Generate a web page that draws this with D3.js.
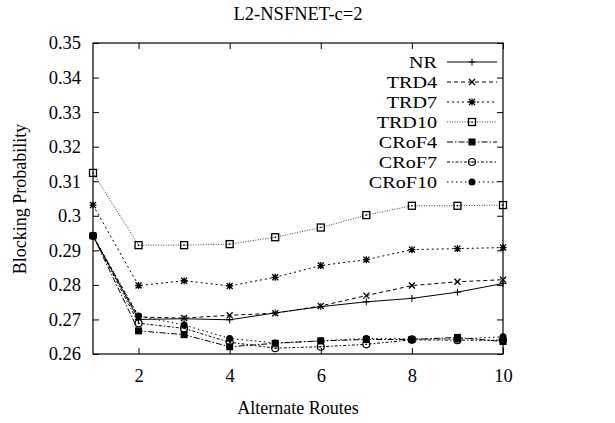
<!DOCTYPE html>
<html>
<head>
<meta charset="utf-8">
<script src="https://cdn.jsdelivr.net/npm/d3@7/dist/d3.min.js"></script>
<style>
  html, body { margin: 0; padding: 0; background: #fff; }
  svg { display: block; }
  text { font-family: "Liberation Serif", "Times New Roman", serif; fill: #000; }
</style>
</head>
<body>
<svg id="chart" width="615" height="423"></svg>
<script>
// Alternate routes on the x axis
const routes = [1, 2, 3, 4, 5, 6, 7, 8, 9, 10];

// Blocking probability per scheme
const nr     = [0.2942, 0.2700, 0.2702, 0.2699, 0.2719, 0.2737, 0.2751, 0.2761, 0.2779, 0.2804];
const trd4   = [0.2942, 0.2707, 0.2704, 0.2712, 0.2718, 0.2739, 0.2769, 0.2798, 0.2809, 0.2815];
const trd7   = [0.3031, 0.2798, 0.2812, 0.2797, 0.2822, 0.2856, 0.2873, 0.2902, 0.2905, 0.2908];
const trd10  = [0.3124, 0.2915, 0.2915, 0.2918, 0.2938, 0.2966, 0.3002, 0.3029, 0.3029, 0.3031];
const crof4  = [0.2942, 0.2667, 0.2656, 0.2621, 0.2631, 0.2638, 0.2642, 0.2642, 0.2648, 0.2636];
const crof7  = [0.2942, 0.2689, 0.2674, 0.2634, 0.2617, 0.2621, 0.2628, 0.2641, 0.2640, 0.2640];
const crof10 = [0.2942, 0.2710, 0.2684, 0.2645, 0.2632, 0.2638, 0.2645, 0.2644, 0.2643, 0.2650];

const seriesNames = ["NR", "TRD4", "TRD7", "TRD10", "CRoF4", "CRoF7", "CRoF10"];
const seriesValues = [nr, trd4, trd7, trd10, crof4, crof7, crof10];

// Axis ticks
const xTicks = [2, 4, 6, 8, 10];
const yTicks = [0.26, 0.27, 0.28, 0.29, 0.30, 0.31, 0.32, 0.33, 0.34, 0.35];
const yTickLabels = ["0.26", "0.27", "0.28", "0.29", "0.3", "0.31", "0.32", "0.33", "0.34", "0.35"];

// Line dash patterns and point symbols for each scheme
const dashes  = [null, "4,3", "2,3", "1,1.5", "6,2,1.5,2", "3,2,1.5,2", "1.5,3"];
const strokes = ["#000", "#000", "#000", "#444", "#000", "#000", "#000"];
const symbols = ["plus", "cross", "star", "square", "fsquare", "circle", "fcircle"];

const serif = "'Liberation Serif', 'Times New Roman', serif";
const svg = d3.select("#chart");
const plotL = 93, plotR = 503, plotT = 43, plotB = 354;

const x = d3.scaleLinear().domain([1, 10]).range([plotL, plotR]);
const y = d3.scaleLinear().domain([0.26, 0.35]).range([plotB, plotT]);

// Title
svg.append("text").attr("x", 298).attr("y", 20).attr("text-anchor", "middle")
  .style("font-family", serif).style("font-size", "18.5px").text("L2-NSFNET-c=2");

// Axes with inward ticks (mirrored on top/right)
const tickLen = 6;
const gx = svg.append("g").attr("transform", `translate(0,${plotB})`)
  .call(d3.axisBottom(x).tickValues(xTicks).tickSize(-tickLen).tickPadding(15).tickFormat(d3.format("d")));
const gxTop = svg.append("g").attr("transform", `translate(0,${plotT})`)
  .call(d3.axisTop(x).tickValues(xTicks).tickSize(-tickLen).tickFormat(""));
const gy = svg.append("g").attr("transform", `translate(${plotL},0)`)
  .call(d3.axisLeft(y).tickValues(yTicks).tickSize(-tickLen).tickPadding(12)
    .tickFormat((d, i) => yTickLabels[i]));
const gyRight = svg.append("g").attr("transform", `translate(${plotR},0)`)
  .call(d3.axisRight(y).tickValues(yTicks).tickSize(-tickLen).tickFormat(""));

[gx, gxTop, gy, gyRight].forEach(g => {
  g.select(".domain").remove();
  g.attr("font-family", null).attr("font-size", null);
  g.selectAll(".tick line").attr("stroke", "#000").attr("stroke-width", 1);
  g.selectAll("text").style("font-family", serif).style("font-size", "18.5px").attr("fill", "#000");
});

// Frame
svg.append("rect").attr("x", plotL).attr("y", plotT).attr("width", plotR - plotL).attr("height", plotB - plotT)
  .attr("fill", "none").attr("stroke", "#000").attr("stroke-width", 1.2);

// Axis titles
svg.append("text").attr("x", 298).attr("y", 414).attr("text-anchor", "middle")
  .style("font-family", serif).style("font-size", "18px").text("Alternate Routes");
svg.append("text").attr("transform", "translate(26,199) rotate(-90)").attr("text-anchor", "middle")
  .style("font-family", serif).style("font-size", "18px").text("Blocking Probability");

// Symbol drawer
function drawSymbol(g, type, cx, cy, color) {
  const s = 3.5;
  const p = g.append("g").attr("transform", `translate(${cx},${cy})`);
  const st = { stroke: color, "stroke-width": 1, fill: "none" };
  const apply = (el, attrs) => { Object.entries(attrs).forEach(([k, v]) => el.attr(k, v)); return el; };
  if (type === "plus") {
    apply(p.append("path").attr("d", `M${-s},0H${s}M0,${-s}V${s}`), st);
  } else if (type === "cross") {
    apply(p.append("path").attr("d", `M${-3},${-3}L3,3M-3,3L3,-3`), st).attr("stroke-width", 1.3);
  } else if (type === "star") {
    apply(p.append("path").attr("d", `M${-s},0H${s}M0,${-s}V${s}M-3,-3L3,3M-3,3L3,-3`), st).attr("stroke-width", 1.3);
  } else if (type === "square") {
    apply(p.append("rect").attr("x", -s).attr("y", -s).attr("width", 2 * s).attr("height", 2 * s), st)
      .attr("stroke", "#000").attr("stroke-width", 1.3);
    p.append("circle").attr("r", 0.8).attr("fill", "#000");
  } else if (type === "fsquare") {
    p.append("rect").attr("x", -s).attr("y", -s).attr("width", 2 * s).attr("height", 2 * s).attr("fill", "#000");
  } else if (type === "circle") {
    apply(p.append("circle").attr("r", s), st).attr("stroke-width", 1.2);
    p.append("circle").attr("r", 0.8).attr("fill", "#000");
  } else if (type === "fcircle") {
    p.append("circle").attr("r", s).attr("fill", "#000");
  }
}

const line = d3.line().x((d, i) => x(routes[i])).y(d => y(d));

// Series lines and points
seriesValues.forEach((vals, k) => {
  const g = svg.append("g");
  g.append("path").datum(vals).attr("d", line).attr("fill", "none")
    .attr("stroke", strokes[k]).attr("stroke-width", 1)
    .attr("stroke-dasharray", dashes[k]);
  vals.forEach((v, i) => drawSymbol(g, symbols[k], x(routes[i]), y(v), "#000"));
});

// Legend: labels are slightly widened so the compact rows keep wide glyphs
const legX = 437, lineX0 = 447, lineX1 = 497, legY0 = 62, legDy = 20;
seriesNames.forEach((name, k) => {
  const ly = legY0 + k * legDy;
  svg.append("text").attr("transform", `translate(${legX},${ly + 6}) scale(1.15,1)`)
    .attr("text-anchor", "end")
    .style("font-family", serif).style("font-size", "17.5px").text(name);
  svg.append("line").attr("x1", lineX0).attr("x2", lineX1).attr("y1", ly).attr("y2", ly)
    .attr("stroke", strokes[k]).attr("stroke-width", 1).attr("stroke-dasharray", dashes[k]);
  drawSymbol(svg, symbols[k], (lineX0 + lineX1) / 2, ly, "#000");
});
</script>
</body>
</html>
